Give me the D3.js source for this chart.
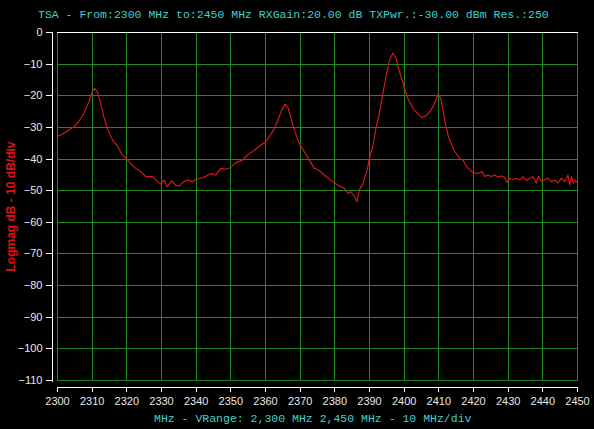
<!DOCTYPE html>
<html>
<head>
<meta charset="utf-8">
<script src="https://cdn.jsdelivr.net/npm/d3@7"></script>
<style>
  html, body { margin: 0; padding: 0; background: #000; }
  svg { display: block; }
</style>
</head>
<body>
<svg id="chart" width="594" height="429"></svg>
<script>
const titleText = "TSA - From:2300 MHz to:2450 MHz RXGain:20.00 dB TXPwr.:-30.00 dBm Res.:250";
const xLabelText = "MHz - VRange: 2,300 MHz 2,450 MHz - 10 MHz/div";
const yLabelText = "Logmag dB - 10 dB/div";

const xTicks = [2300,2310,2320,2330,2340,2350,2360,2370,2380,2390,2400,2410,2420,2430,2440,2450];
const yTicks = [0,-10,-20,-30,-40,-50,-60,-70,-80,-90,-100,-110];

const freqMHz = [
  2300.0,2301.5,2303.4,2304.9,2306.3,2307.8,2309.2,2310.2,2310.9,2311.6,
  2312.6,2313.5,2314.5,2316.0,2317.4,2318.8,2319.9,2321.2,2322.7,2324.1,
  2325.6,2327.5,2329.0,2329.9,2330.9,2331.8,2333.1,2334.2,2335.2,2336.6,
  2338.1,2339.0,2340.0,2342.4,2344.4,2345.8,2347.2,2348.7,2350.1,2351.6,
  2353.5,2354.9,2356.4,2358.3,2360.2,2362.2,2363.6,2364.8,2365.8,2366.7,
  2367.5,2368.6,2369.9,2371.3,2372.8,2374.2,2375.7,2377.1,2378.6,2380.0,
  2381.4,2382.9,2383.9,2384.8,2385.8,2386.5,2387.2,2388.2,2388.7,2389.5,
  2390.1,2391.1,2392.0,2393.0,2394.0,2394.9,2395.9,2396.9,2397.8,2398.8,
  2399.8,2401.2,2402.7,2404.1,2405.3,2406.5,2407.9,2408.9,2410.0,2410.8,
  2411.8,2412.9,2414.5,2416.1,2417.1,2418.3,2419.8,2421.2,2422.6,2423.4,
  2424.3,2425.3,2426.3,2427.2,2428.2,2429.1,2429.9,2430.6,2431.6,2432.5,
  2433.5,2434.4,2435.4,2436.4,2437.3,2438.3,2438.9,2439.7,2440.7,2441.6,
  2442.6,2443.6,2444.5,2445.5,2446.5,2447.4,2447.9,2448.4,2448.9,2449.4,
  2450.0
];
const levelDb = [
  -33.1,-32.3,-31.0,-29.9,-28.3,-25.7,-22.0,-18.9,-17.8,-18.9,
  -22.5,-26.8,-30.4,-34.1,-36.0,-38.9,-39.9,-41.5,-43.1,-44.1,
  -45.7,-45.7,-47.3,-48.0,-46.8,-48.9,-47.0,-48.4,-48.7,-47.3,
  -46.8,-47.4,-46.6,-45.9,-44.7,-45.2,-43.1,-43.4,-42.8,-41.3,
  -40.5,-38.9,-37.8,-36.2,-34.7,-31.5,-28.3,-24.7,-22.8,-24.1,
  -27.3,-31.5,-35.2,-37.8,-40.5,-43.1,-43.8,-45.2,-46.6,-47.6,
  -48.7,-49.4,-51.0,-50.5,-52.0,-53.6,-49.9,-48.0,-46.2,-43.6,
  -39.9,-36.2,-30.4,-25.7,-19.4,-14.1,-8.9,-6.7,-8.3,-12.5,
  -16.2,-21.0,-24.1,-25.9,-27.0,-26.5,-24.7,-22.5,-19.4,-21.5,
  -27.8,-33.1,-37.3,-39.9,-40.5,-42.8,-44.3,-44.8,-44.1,-45.7,
  -45.2,-45.7,-45.2,-45.9,-45.5,-45.9,-47.6,-46.2,-46.6,-46.2,
  -46.8,-45.7,-47.0,-46.2,-45.7,-47.8,-45.5,-47.3,-46.6,-46.2,
  -47.3,-46.8,-47.8,-46.2,-47.3,-45.2,-48.4,-45.7,-47.8,-46.8,
  -47.5
];

(function () {
const svg = d3.select("#chart");
const W = 594, H = 429;
svg.append("rect").attr("width", W).attr("height", H).attr("fill", "#000");

const pL = 57, pR = 577, pT = 32, pB = 380;
const x = d3.scaleLinear().domain([2300, 2450]).range([pL, pR]);
const y = d3.scaleLinear().domain([-110, 0]).range([pB, pT]);

const gridColor = "#1f8a1f";
const axisColor = "#ffffff";
const textColor = "#e8e8e8";
const sans = "'Liberation Sans', Arial, sans-serif";
const mono = "'Liberation Mono', 'Courier New', monospace";

// grid
const grid = svg.append("g").attr("shape-rendering", "crispEdges");
grid.selectAll("line.v").data(xTicks).join("line")
  .attr("class", "v")
  .attr("x1", d => Math.round(x(d)) + 0.5).attr("x2", d => Math.round(x(d)) + 0.5)
  .attr("y1", pT).attr("y2", pB)
  .attr("stroke", gridColor).attr("stroke-width", 1);
grid.selectAll("line.h").data(yTicks).join("line")
  .attr("class", "h")
  .attr("x1", pL).attr("x2", pR + 1)
  .attr("y1", d => Math.round(y(d)) + 0.5).attr("y2", d => Math.round(y(d)) + 0.5)
  .attr("stroke", gridColor).attr("stroke-width", 1);
// white top edge
svg.append("line")
  .attr("x1", pL).attr("x2", pR + 1)
  .attr("y1", pT + 0.5).attr("y2", pT + 0.5)
  .attr("stroke", axisColor).attr("shape-rendering", "crispEdges");

// trace
const line = d3.line().x((d, i) => x(freqMHz[i])).y(d => y(d));
svg.append("path")
  .datum(levelDb)
  .attr("d", line)
  .attr("fill", "none")
  .attr("stroke", "#e41818")
  .attr("stroke-width", 1.1)
  .attr("stroke-linejoin", "round");

// y axis
const yAxis = d3.axisLeft(y).tickValues(yTicks).tickFormat(d3.format("d"))
  .tickSize(7).tickSizeOuter(0).tickPadding(3);
const gy = svg.append("g").attr("transform", "translate(52.5,0)").call(yAxis);
gy.attr("shape-rendering", "crispEdges");
gy.select(".domain").attr("stroke", axisColor).attr("d", `M0,${pT}V${pB + 2}`);
gy.selectAll(".tick line").attr("stroke", axisColor);
gy.selectAll(".tick text").attr("fill", textColor)
  .style("font-family", sans).style("font-size", "11px");

// x axis
const xAxis = d3.axisBottom(x).tickValues(xTicks).tickFormat(d3.format("d"))
  .tickSize(5).tickSizeOuter(0).tickPadding(6);
const gx = svg.append("g").attr("transform", "translate(0,386.5)").call(xAxis);
gx.attr("shape-rendering", "crispEdges");
gx.select(".domain").attr("stroke", axisColor);
gx.selectAll(".tick line").attr("stroke", axisColor);
gx.selectAll(".tick text").attr("fill", textColor)
  .style("font-family", sans).style("font-size", "11px");

// title
svg.append("text")
  .attr("x", 38).attr("y", 17.5)
  .attr("fill", "#3fd0d0")
  .style("font-family", mono).style("font-size", "11.5px")
  .text(titleText);

// x label
svg.append("text")
  .attr("x", 154).attr("y", 422)
  .attr("fill", "#3fd0d0")
  .style("font-family", mono).style("font-size", "11.5px")
  .text(xLabelText);

// y label
svg.append("text")
  .attr("transform", "translate(15,206.5) rotate(-90)")
  .attr("text-anchor", "middle")
  .attr("fill", "#e01010")
  .style("font-family", sans).style("font-size", "12px").style("font-weight", "bold")
  .text(yLabelText);
})();
</script>
</body>
</html>
